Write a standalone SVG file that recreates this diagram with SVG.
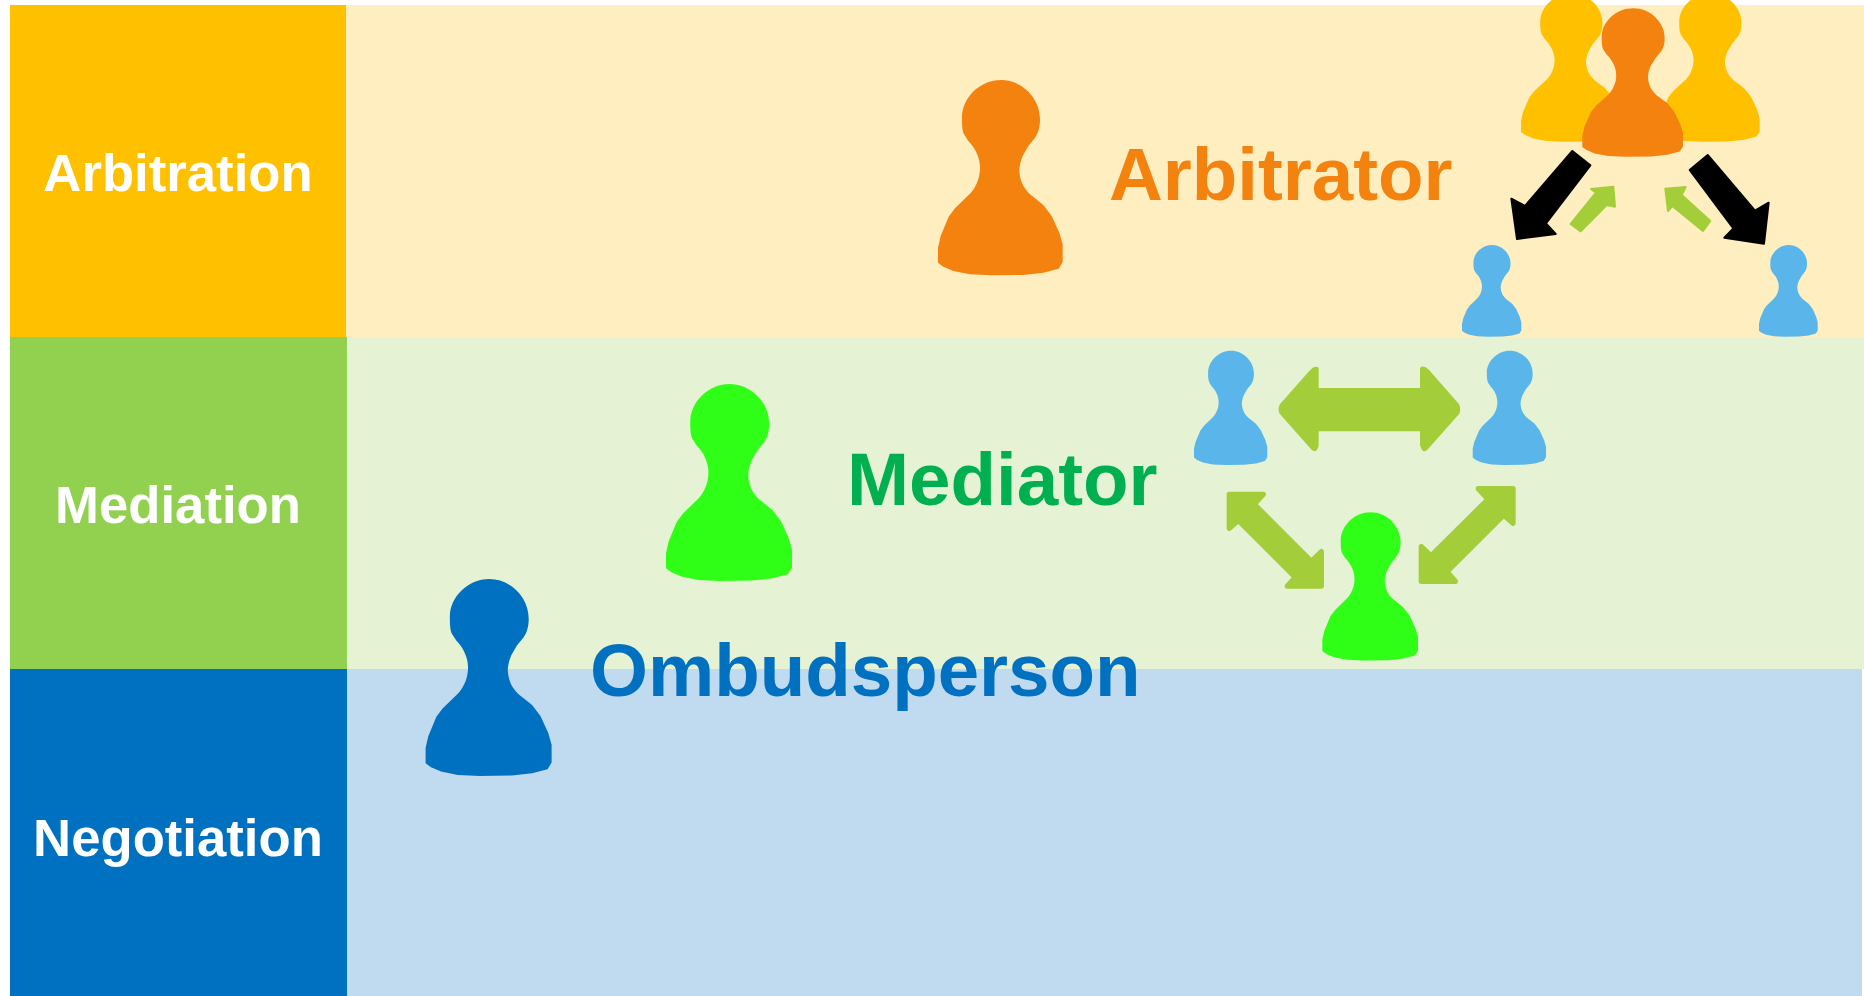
<svg xmlns="http://www.w3.org/2000/svg" xmlns:xlink="http://www.w3.org/1999/xlink" width="1864" height="996" viewBox="0 0 1864 996">
<style>
text{font-family:"Liberation Sans",Arial,sans-serif;font-weight:bold}
.lane{font-size:52.7px;fill:#fff;text-anchor:middle}
.role{font-size:74.5px}
.ar{fill:#A4CE39;stroke:#A4CE39;stroke-width:6;stroke-linejoin:round}
.ar2{fill:#A4CE39;stroke:#A4CE39;stroke-width:16;stroke-linejoin:round}
.bk{fill:#000;stroke:#000;stroke-width:6;stroke-linejoin:round}
</style>
<defs>
<path id="pawn" d="M114,610 L114,565 L122,530 L146,472 L165,447 L205,408 C225,390 240,360 240,325 C240,295 225,265 205,245 L192,225 C186,212 186,190 186,175 C186,115 240,62 303,62 C365,62 420,115 420,180 C420,205 414,222 405,235 L385,260 L368,290 C362,305 358,320 358,335 C360,365 370,385 390,405 L430,437 L455,470 L478,520 L488,555 L488,608 L476,628 L430,640 L370,647 L275,648 L210,645 L160,635 L130,622 Z"/>
</defs>
<rect width="1864" height="996" fill="#fff"/>
<g id="lane-arbitration">
<rect x="346" y="5" width="1518" height="332" fill="#FFEEBF"/>
<rect x="10" y="5" width="336" height="332" fill="#FFC000"/>
<text class="lane" x="178" y="190.500">Arbitration</text>
</g>
<g id="lane-mediation">
<rect x="347" y="337" width="1517" height="332" fill="#E5F2D3"/>
<rect x="10" y="337" width="337" height="332" fill="#92D050"/>
<text class="lane" x="178" y="522.500">Mediation</text>
</g>
<g id="lane-negotiation">
<rect x="347" y="669" width="1515" height="327" fill="#C0DAEF"/>
<rect x="10" y="669" width="337" height="327" fill="#0070C0"/>
<text class="lane" x="178" y="856">Negotiation</text>
</g>
<g id="connectors">
<g transform="translate(1440,0) scale(.33333)">
<path class="bk" d="M397,453 L451,496 L318,670 L347,702 L231,717 L214,596 L255,618 Z"/>
<path class="bk" d="M803,465 L749,510 L880,685 L853,713 L972,731 L986,608 L945,632 Z"/>
<path class="ar" d="M392,672 L422,694 L500,615 L525,620 L520,560 L453,567 L468,578 Z"/>
<path class="ar" d="M811,663 L789,693 L697,618 L684,633 L676,566 L737,561 L725,585 Z"/>
</g>
<g transform="translate(1170,330) scale(.33333)">
<path class="ar" d="M443,177 L753,177 L753,115 Q760,108 775,122 L865,225 Q870,238 865,250 L772,355 Q760,370 753,345 L753,301 L443,301 L443,345 Q438,370 425,355 L332,250 Q325,238 332,225 L420,125 Q435,108 443,115 Z"/>
<path class="ar2" d="M178,493 L280,493 L253,523 L424,694 L454,665 L454,768 L352,768 L376,742 L205,571 L178,595 Z"/>
<path class="ar2" d="M1029,476 L925,476 L954,508 L783,678 L754,650 L754,754 L856,754 L831,725 L1001,555 L1029,580 Z"/>
</g>
</g>
<g id="pawn-yellow-left" fill="#FFC000"><use xlink:href="#pawn" href="#pawn" transform="translate(1521,-6.7) scale(.2664,.2532) translate(-114,-62)"/></g>
<g id="pawn-yellow-right" fill="#FFC000"><use xlink:href="#pawn" href="#pawn" transform="translate(1660,-6.7) scale(.2664,.2532) translate(-114,-62)"/></g>
<g id="pawn-orange-small" fill="#F4820F"><use xlink:href="#pawn" href="#pawn" transform="translate(1582.3,8.3) scale(.2692,.2532) translate(-114,-62)"/></g>
<g id="pawn-orange-large" fill="#F4820F"><use xlink:href="#pawn" href="#pawn" transform="translate(938,80) scale(.33333) translate(-114,-62)"/></g>
<g id="pawn-blue-top-left" fill="#5AB6EA"><use xlink:href="#pawn" href="#pawn" transform="translate(1462,245) scale(.1586,.1565) translate(-114,-62)"/></g>
<g id="pawn-blue-top-right" fill="#5AB6EA"><use xlink:href="#pawn" href="#pawn" transform="translate(1759,245) scale(.157,.1565) translate(-114,-62)"/></g>
<g id="pawn-blue-mid-left" fill="#5AB6EA"><use xlink:href="#pawn" href="#pawn" transform="translate(1194,350.7) scale(.196,.195) translate(-114,-62)"/></g>
<g id="pawn-blue-mid-right" fill="#5AB6EA"><use xlink:href="#pawn" href="#pawn" transform="translate(1472.7,350.7) scale(.196,.195) translate(-114,-62)"/></g>
<g id="pawn-green-small" fill="#2FFF17"><use xlink:href="#pawn" href="#pawn" transform="translate(1322.3,512.3) scale(.2559,.2531) translate(-114,-62)"/></g>
<g id="pawn-green-large" fill="#2FFF17"><use xlink:href="#pawn" href="#pawn" transform="translate(666,384) scale(.3369,.336) translate(-114,-62)"/></g>
<g id="pawn-ombudsperson" fill="#0070C0"><use xlink:href="#pawn" href="#pawn" transform="translate(425.6,579) scale(.3369,.336) translate(-114,-62)"/></g>
<g id="label-arbitrator"><text class="role" x="1109" y="200" fill="#F4820F">Arbitrator</text></g>
<g id="label-mediator"><text class="role" x="847" y="504.500" fill="#00B050">Mediator</text></g>
<g id="label-ombudsperson"><text class="role" x="590" y="695.500" fill="#0070C0">Ombudsperson</text></g>
</svg>
